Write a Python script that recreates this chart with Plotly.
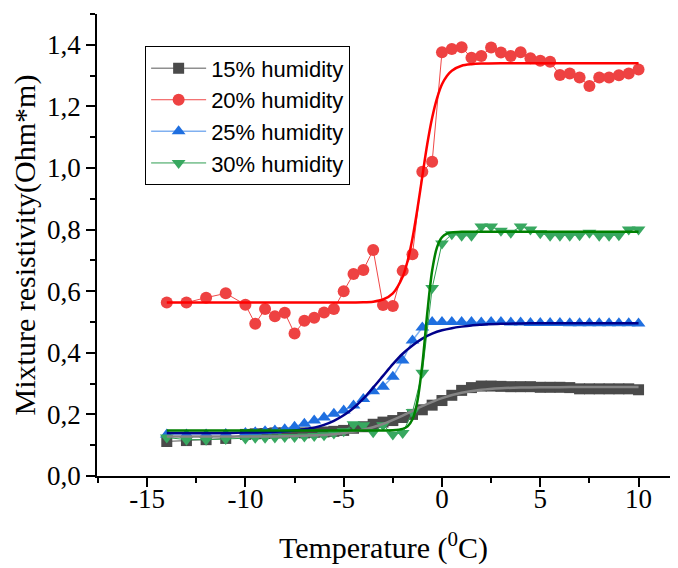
import plotly.graph_objects as go

# ---------------- data ----------------
temps = [-14, -13, -12, -11, -10, -9.5, -9, -8.5, -8, -7.5, -7, -6.5, -6, -5.5, -5,
         -4.5, -4, -3.5, -3, -2.5, -2, -1.5, -1, -0.5, 0, 0.5, 1, 1.5, 2, 2.5, 3,
         3.5, 4, 4.5, 5, 5.5, 6, 6.5, 7, 7.5, 8, 8.5, 9, 9.5, 10]

hum15 = [0.112, 0.115, 0.118, 0.122, 0.135, 0.137, 0.138, 0.140, 0.140, 0.142, 0.140,
         0.142, 0.143, 0.145, 0.148, 0.155, 0.160, 0.168, 0.175, 0.180, 0.190, 0.200,
         0.215, 0.230, 0.245, 0.262, 0.278, 0.287, 0.292, 0.292, 0.291, 0.290, 0.290,
         0.290, 0.288, 0.288, 0.288, 0.287, 0.283, 0.283, 0.283, 0.283, 0.283, 0.283, 0.280]

hum20 = [0.563, 0.563, 0.579, 0.593, 0.556, 0.494, 0.542, 0.519, 0.530, 0.463, 0.504,
         0.514, 0.531, 0.542, 0.600, 0.656, 0.669, 0.734, 0.555, 0.552, 0.666, 0.720,
         0.988, 1.020, 1.376, 1.386, 1.392, 1.358, 1.364, 1.391, 1.375, 1.364, 1.376,
         1.356, 1.348, 1.345, 1.302, 1.307, 1.294, 1.266, 1.294, 1.294, 1.301, 1.307, 1.320]

hum25 = [0.135, 0.135, 0.135, 0.136, 0.140, 0.142, 0.145, 0.148, 0.152, 0.160, 0.170,
         0.180, 0.190, 0.202, 0.213, 0.229, 0.250, 0.275, 0.290, 0.322, 0.375, 0.440,
         0.482, 0.500, 0.500, 0.500, 0.500, 0.500, 0.498, 0.500, 0.500, 0.498, 0.498,
         0.497, 0.497, 0.497, 0.497, 0.496, 0.496, 0.496, 0.496, 0.496, 0.496, 0.496, 0.495]

hum30 = [0.125, 0.118, 0.118, 0.120, 0.122, 0.124, 0.124, 0.125, 0.127, 0.127, 0.128,
         0.130, 0.132, 0.138, 0.145, 0.168, 0.165, 0.142, 0.165, 0.135, 0.140, 0.208,
         0.335, 0.610, 0.755, 0.785, 0.780, 0.780, 0.810, 0.810, 0.796, 0.790, 0.810,
         0.800, 0.788, 0.780, 0.780, 0.780, 0.782, 0.790, 0.780, 0.780, 0.782, 0.800, 0.800]

# fitted (sigmoidal) curves
fit15_x = [-14, -13, -12, -11, -10, -9, -8, -7, -6, -5, -4, -3, -2, -1, 0, 1, 2, 3, 4,
           5, 6, 7, 8, 9, 10]
fit15_y = [0.128, 0.128, 0.128, 0.128, 0.128, 0.128, 0.129, 0.131, 0.133, 0.139, 0.150,
           0.169, 0.196, 0.227, 0.253, 0.270, 0.280, 0.285, 0.287, 0.288, 0.2885, 0.289,
           0.289, 0.289, 0.289]

fit20_x = [-14, -12, -10, -8, -6, -4, -3.5, -3, -2.5, -2, -1.75, -1.5, -1.25, -1, -0.75,
           -0.5, -0.25, 0, 0.25, 0.5, 1, 1.5, 2, 3, 4, 6, 8, 10]
fit20_y = [0.563, 0.563, 0.563, 0.563, 0.563, 0.564, 0.566, 0.573, 0.593, 0.647, 0.698,
           0.772, 0.867, 0.973, 1.077, 1.163, 1.227, 1.272, 1.299, 1.316, 1.332, 1.337,
           1.339, 1.340, 1.340, 1.340, 1.340, 1.340]

fit25_x = [-14, -13, -12, -11, -10, -9, -8, -7.5, -7, -6.5, -6, -5.5, -5, -4.5, -4, -3.5,
           -3, -2.5, -2, -1.5, -1, -0.5, 0, 0.5, 1, 1.5, 2, 3, 4, 5, 6, 7, 8, 9, 10]
fit25_y = [0.140, 0.140, 0.140, 0.140, 0.141, 0.142, 0.145, 0.148, 0.152, 0.157, 0.166,
           0.179, 0.197, 0.221, 0.251, 0.287, 0.325, 0.363, 0.397, 0.424, 0.446, 0.462,
           0.473, 0.480, 0.485, 0.489, 0.491, 0.494, 0.495, 0.496, 0.496, 0.496, 0.496,
           0.496, 0.496]

fit30_x = [-14, -12, -10, -8, -6, -4, -3, -2.5, -2, -1.75, -1.5, -1.25, -1, -0.75, -0.5,
           -0.25, 0, 0.25, 0.5, 1, 2, 4, 6, 8, 10]
fit30_y = [0.148, 0.148, 0.148, 0.148, 0.148, 0.148, 0.148, 0.1486, 0.153, 0.161, 0.184,
           0.243, 0.362, 0.528, 0.667, 0.743, 0.775, 0.787, 0.791, 0.793, 0.793, 0.793,
           0.793, 0.793, 0.793]

series_names = ["15% humidity", "20% humidity", "25% humidity", "30% humidity"]

x_tickvals = [-15, -10, -5, 0, 5, 10]
x_ticktext = ["-15", "-10", "-5", "0", "5", "10"]
x_minorvals = [-17.5, -12.5, -7.5, -2.5, 2.5, 7.5]
y_tickvals = [0.0, 0.2, 0.4, 0.6, 0.8, 1.0, 1.2, 1.4]
y_ticktext = ["0,0", "0,2", "0,4", "0,6", "0,8", "1,0", "1,2", "1,4"]
y_minorvals = [0.1, 0.3, 0.5, 0.7, 0.9, 1.1, 1.3, 1.5]

# ---------------- figure ----------------
fig = go.Figure()

data_styles = [
    (hum15, dict(color="#8f8f8f", width=1.5), dict(symbol="square", size=11, color="#4a4a4a")),
    (hum20, dict(color="#f04848", width=1), dict(symbol="circle", size=12, color="#ee4242")),
    (hum25, dict(color="#80b0f0", width=1.5), dict(symbol="triangle-up", size=12, color="#1f6fe0")),
    (hum30, dict(color="#2e9e50", width=1), dict(symbol="triangle-down", size=12, color="#38a860")),
]
for name, (vals, line, marker) in zip(series_names, data_styles):
    fig.add_trace(go.Scatter(x=temps, y=vals, name=name, mode="lines+markers",
                             line=line, marker=dict(line=dict(width=0), **marker)))

fits = [
    (fit15_x, fit15_y, "#858585"),
    (fit20_x, fit20_y, "#ff0000"),
    (fit25_x, fit25_y, "#00008b"),
    (fit30_x, fit30_y, "#008000"),
]
for fx, fy, col in fits:
    fig.add_trace(go.Scatter(x=fx, y=fy, mode="lines", showlegend=False,
                             hoverinfo="skip",
                             line=dict(color=col, width=2.5, shape="spline", smoothing=0.8)))

serif = "Liberation Serif, Times New Roman, serif"
axis_common = dict(showline=True, linecolor="black", linewidth=1.5, showgrid=False,
                   zeroline=False, ticks="outside", ticklen=9, tickwidth=1.5,
                   tickcolor="black", automargin=False,
                   tickfont=dict(family=serif, size=27, color="black"))

# the page body adds an 8 px offset, so the figure is 8 px smaller than the window
fig.update_layout(
    width=670, height=560,
    margin=dict(l=89, r=8, t=6, b=92),
    plot_bgcolor="white", paper_bgcolor="white",
    legend=dict(x=0.084, y=0.93, xanchor="left", yanchor="top",
                bgcolor="rgba(255,255,255,0)", bordercolor="black", borderwidth=1,
                font=dict(family="Liberation Sans, Arial, sans-serif", size=22, color="black"),
                itemwidth=55, tracegroupgap=0),
    xaxis=dict(range=[-17.55, 11.6], tickmode="array", tickvals=x_tickvals,
               ticktext=x_ticktext, ticklabelstandoff=-11,
               minor=dict(tickmode="array", tickvals=x_minorvals, ticks="outside",
                          ticklen=5, tickwidth=1.5, tickcolor="black"),
               title=dict(text="Temperature (<sup>0</sup>C)", standoff=24,
                          font=dict(family=serif, size=30, color="black")),
               **axis_common),
    yaxis=dict(range=[0, 1.5], tickmode="array", tickvals=y_tickvals,
               ticktext=y_ticktext,
               minor=dict(tickmode="array", tickvals=y_minorvals, ticks="outside",
                          ticklen=5, tickwidth=1.5, tickcolor="black"),
               title=dict(text="Mixture resistivity(Ohm*m)", standoff=8,
                          font=dict(family=serif, size=30, color="black")),
               **axis_common),
)

fig.write_html("out.html")
